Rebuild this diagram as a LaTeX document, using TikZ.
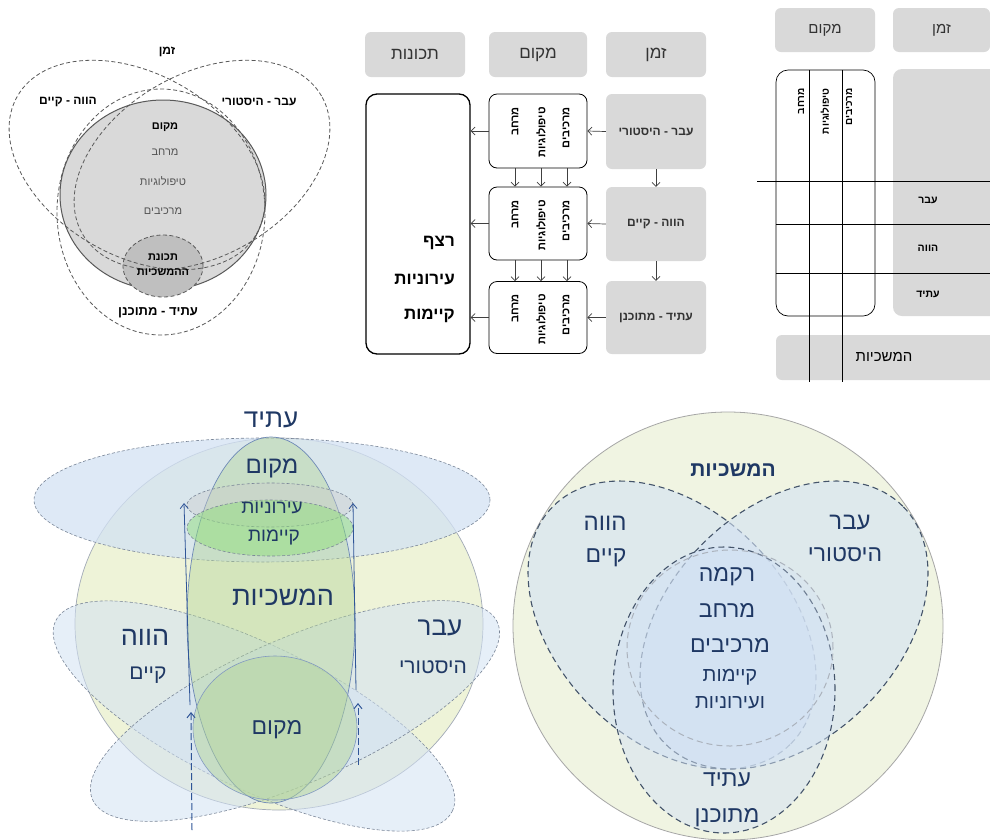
\documentclass[tikz,border=0pt]{standalone}
\usepackage{fontspec}
\setmainfont{Liberation Sans}
\newfontfamily\heb[Script=Hebrew]{Liberation Sans}
\TeXXeTstate=1
\usetikzlibrary{arrows.meta,calc}
\newcommand\hb[1]{\beginR #1\endR}
\newcommand\fs[1]{\fontsize{#1pt}{#1pt}\selectfont}
\definecolor{gbox}{HTML}{D9D9D9}
\definecolor{pone}{HTML}{595959}
\definecolor{ptxt}{HTML}{555555}
\definecolor{yg}{HTML}{EEF3D8}
\definecolor{ygb}{HTML}{F0F4E2}
\definecolor{lb}{HTML}{D3E2F4}
\definecolor{gr}{HTML}{B5D69C}
\definecolor{dblue}{HTML}{1F3864}
\definecolor{edgefour}{HTML}{7A8698}
\definecolor{edgefive}{HTML}{44546A}
\definecolor{arrowblue}{HTML}{2F5597}
\begin{document}
\begin{tikzpicture}[x=1pt,y=-1pt,
  graybox/.style={fill=gbox,rounded corners=6pt,inner sep=0pt,text=black!80},
  whitebox/.style={draw=black,line width=0.8pt,rounded corners=8pt,inner sep=0pt},
  vtext/.style={rotate=90,anchor=east,inner sep=0pt,font=\heb\bfseries\fs{11}},
  vtextb/.style={rotate=90,anchor=east,inner sep=0pt,font=\heb\bfseries\fs{10}},
  arr/.style={draw=black!75,line width=0.7pt,-{Straight Barb[length=4pt,width=8pt]}},
  ponedash/.style={draw=pone,dash pattern=on 4pt off 2.5pt,line width=0.8pt},
  pfourdash/.style={draw=edgefour,dash pattern=on 3pt off 2pt,line width=0.6pt},
  pfivedash/.style={draw=edgefive,dash pattern=on 6pt off 4pt,line width=1.1pt},
  parrow/.style={draw=arrowblue,line width=0.8pt,-{Straight Barb[length=5pt,width=8pt]}},
  longdash/.style={dash pattern=on 7pt off 3pt,line width=1pt},
  txtfour/.style={font=\heb,text=dblue,inner sep=0pt},
  txtone/.style={font=\heb\bfseries\fs{12},inner sep=0pt}
]
\useasboundingbox (0,0) rectangle (990,839);
\fill[white] (0,0) rectangle (990,839);
\begin{scope}
\clip (0,0) rectangle (990,839);

% ================= Panel 1 =================
\draw[fill=gbox,draw=pone,line width=1pt] (163,195) ellipse [x radius=103pt,y radius=95pt];
\draw[ponedash,fill=black!25] (163,266) ellipse [x radius=40pt,y radius=31pt];
\draw[ponedash,rotate around={-30:(137,165)}] (137,165) ellipse [x radius=138pt,y radius=91pt];
\draw[ponedash,rotate around={30:(202,165)}] (202,165) ellipse [x radius=138pt,y radius=91pt];
\draw[ponedash] (161,212) ellipse [x radius=104pt,y radius=123pt];
\node[txtone] (pz) at (167,52) {\hb{זמן}};
\node[txtone] (ph) at (68,102) {\hb{הווה - קיים}};
\node[txtone] (pa) at (259,102) {\hb{עבר - היסטורי}};
\node[txtone,font=\heb\bfseries\fs{11}] (pm) at (165,127) {\hb{מקום}};
\node[txtone,font=\heb\fs{11},text=ptxt] (pr) at (165,152) {\hb{מרחב}};
\node[txtone,font=\heb\fs{11},text=ptxt] (pt) at (163,181) {\hb{טיפולוגיות}};
\node[txtone,font=\heb\fs{11},text=ptxt] (pk) at (163,211) {\hb{מרכיבים}};
\node[txtone,font=\heb\bfseries\fs{11}] (pc1) at (163,257) {\hb{תכונת}};
\node[txtone,font=\heb\bfseries\fs{11}] (pc2) at (163,272) {\hb{ההמשכיות}};
\node[txtone,font=\heb\bfseries\fs{13}] (pf) at (158,313) {\hb{עתיד - מתוכנן}};

% ================= Panel 2 =================
\node[graybox,minimum width=100pt,minimum height=45pt,font=\heb\fs{17}] (h1) at (415,54.5) {\hb{תכונות}};
\node[graybox,minimum width=98pt,minimum height=45pt,font=\heb\fs{17}] (h2) at (538,54.5) {\hb{מקום}};
\node[graybox,minimum width=100pt,minimum height=45pt,font=\heb\fs{17}] (h3) at (656,54.5) {\hb{זמן}};
\node[whitebox,line width=1.3pt,rounded corners=11pt,minimum width=104pt,minimum height=260pt] (rz) at (418,224) {};
\node[whitebox,minimum width=98pt,minimum height=74pt] (w1) at (538,131) {};
\node[whitebox,minimum width=98pt,minimum height=73pt] (w2) at (538,223.5) {};
\node[whitebox,minimum width=98pt,minimum height=72pt] (w3) at (538,317.5) {};
\node[graybox,minimum width=100pt,minimum height=75pt,font=\heb\bfseries\fs{12}] (g1) at (656,131.5) {\hb{עבר - היסטורי}};
\node[graybox,minimum width=100pt,minimum height=74pt,font=\heb\bfseries\fs{12}] (g2) at (656,224) {\hb{הווה - קיים}};
\node[graybox,minimum width=100pt,minimum height=73pt,font=\heb\bfseries\fs{12}] (g3) at (656,317.5) {\hb{עתיד - מתוכנן}};
\foreach \r/\y in {1/107,2/200,3/294}{
  \node[vtext] (ta\r) at (515,\y) {\hb{מרחב}};
  \node[vtext] (tb\r) at (541,\y) {\hb{טיפולוגיות}};
  \node[vtext] (tc\r) at (566,\y) {\hb{מרכיבים}};
}
\node[anchor=east,inner sep=0pt,font=\heb\bfseries\fs{17}] (rz1) at (455,243) {\hb{רצף}};
\node[anchor=east,inner sep=0pt,font=\heb\bfseries\fs{17}] (rz2) at (455,280) {\hb{עירוניות}};
\node[anchor=east,inner sep=0pt,font=\heb\bfseries\fs{17}] (rz3) at (455,316) {\hb{קיימות}};
\foreach \i in {1,2,3}{
  \draw[arr] (g\i.west) -- (w\i.east);
  \draw[arr] (w\i.west) -- (w\i.west -| rz.east);
}
\draw[arr] (g1.south) -- (g2.north);
\draw[arr] (g2.south) -- (g3.north);
\coordinate (ca) at (515,0);
\coordinate (cb) at (541,0);
\coordinate (cc) at (567,0);
\foreach \c in {ca,cb,cc}{
  \draw[arr] (w1.south -| \c) -- (w2.north -| \c);
  \draw[arr] (w2.south -| \c) -- (w3.north -| \c);
}

% ================= Panel 3 =================
\node[graybox,minimum width=100pt,minimum height=44pt,font=\heb\fs{15}] (m3) at (825,30) {\hb{מקום}};
\node[graybox,minimum width=97pt,minimum height=44pt,font=\heb\fs{15}] (z3) at (941.5,30) {\hb{זמן}};
\node[graybox,rounded corners=9pt,minimum width=112pt,minimum height=247pt] (tg) at (949,192.5) {};
\node[graybox,minimum width=230pt,minimum height=45pt] (ms) at (891,357.5) {};
\node[whitebox,line width=0.7pt,rounded corners=12pt,minimum width=99pt,minimum height=246pt] (wb) at (825.5,193) {};
\node[font=\heb\fs{15},inner sep=0pt] (mst) at (884,357) {\hb{המשכיות}};
\coordinate (hl0) at (757,181); \coordinate (hl1) at (990,181);
\coordinate (hm0) at (776,224); \coordinate (hm1) at (990,224);
\coordinate (hn0) at (776,273); \coordinate (hn1) at (990,273);
\coordinate (va0) at (809,70); \coordinate (va1) at (809,382);
\coordinate (vb0) at (842,70); \coordinate (vb1) at (842,382);
\draw[line width=0.7pt] (hl0) -- (hl1);
\draw[line width=0.7pt] (hm0) -- (hm1);
\draw[line width=0.7pt] (hn0) -- (hn1);
\draw[line width=0.7pt] (va0) -- (va1);
\draw[line width=0.7pt] (vb0) -- (vb1);
\node[font=\heb\bfseries\fs{10.5},inner sep=0pt] (e1) at (928,200) {\hb{עבר}};
\node[font=\heb\bfseries\fs{10.5},inner sep=0pt] (e2) at (928,248) {\hb{הווה}};
\node[font=\heb\bfseries\fs{10.5},inner sep=0pt] (e3) at (928,294) {\hb{עתיד}};
\node[vtextb] (s1) at (801,88) {\hb{מרחב}};
\node[vtextb] (s2) at (825,88) {\hb{טיפולוגיות}};
\node[vtextb] (s3) at (849,88) {\hb{מרכיבים}};

% ================= Panel 4 =================
\draw[fill=yg,draw=edgefour!70,line width=0.7pt] (279,624) ellipse [x radius=204pt,y radius=186pt];
\draw[pfourdash,fill=lb,fill opacity=0.75] (262,500) ellipse [x radius=228pt,y radius=62pt];
\draw[pfourdash,fill=lb,fill opacity=0.55,rotate around={-25.6:(254,716)}] (254,716) ellipse [x radius=220pt,y radius=72pt];
\draw[pfourdash,fill=lb,fill opacity=0.55,rotate around={23.6:(295,711)}] (295,711) ellipse [x radius=221pt,y radius=72pt];
\draw[draw=arrowblue!70,line width=0.7pt,fill=gr,fill opacity=0.45] (271,620) ellipse [x radius=84pt,y radius=183pt];
\draw[draw=arrowblue!60,line width=0.6pt,fill=gr,fill opacity=0.5] (275,728) ellipse [x radius=82pt,y radius=72pt];
\draw[pfourdash,fill=black!20,fill opacity=0.4] (270,505) ellipse [x radius=83pt,y radius=22pt];
\draw[pfourdash,fill=gr!80!green,fill opacity=0.5] (270,528) ellipse [x radius=83pt,y radius=28pt];
\coordinate (la0) at (190,705); \coordinate (la1) at (184,503);
\coordinate (ld0) at (192,830); \coordinate (ld1) at (191,712);
\coordinate (ra0) at (356,690); \coordinate (ra1) at (353,503);
\coordinate (rd0) at (358,765); \coordinate (rd1) at (358,703);
\draw[parrow] (la0) -- (la1);
\draw[parrow,longdash] (ld0) -- (ld1);
\draw[parrow] (ra0) -- (ra1);
\draw[parrow,longdash] (rd0) -- (rd1);
\node[txtfour,font=\heb\fs{26}] (f1) at (271,420) {\hb{עתיד}};
\node[txtfour,font=\heb\fs{24}] (f2) at (272,468) {\hb{מקום}};
\node[txtfour,font=\heb\fs{19}] (f3) at (272,508) {\hb{עירוניות}};
\node[txtfour,font=\heb\fs{19}] (f4) at (274,537) {\hb{קיימות}};
\node[txtfour,font=\heb\fs{27}] (f5) at (283,597) {\hb{המשכיות}};
\node[txtfour,font=\heb\fs{27}] (f6) at (145,637) {\hb{הווה}};
\node[txtfour,font=\heb\fs{21}] (f7) at (148,675) {\hb{קיים}};
\node[txtfour,font=\heb\fs{26}] (f8) at (440,628) {\hb{עבר}};
\node[txtfour,font=\heb\fs{21}] (f9) at (433,667) {\hb{היסטורי}};
\node[txtfour,font=\heb\fs{23}] (f10) at (277,730) {\hb{מקום}};

% ================= Panel 5 =================
\draw[fill=ygb,draw=black!35,line width=0.8pt] (728,626) ellipse [x radius=215pt,y radius=214pt];
\draw[pfivedash,fill=lb,fill opacity=0.6,rotate around={-45:(672,625)}] (672,625) ellipse [x radius=168pt,y radius=115pt];
\draw[pfivedash,fill=lb,fill opacity=0.6,rotate around={45:(784,625)}] (784,625) ellipse [x radius=168pt,y radius=115pt];
\draw[pfivedash,fill=lb,fill opacity=0.5] (724,690) ellipse [x radius=111pt,y radius=143pt];
\draw[draw=edgefive!45,dash pattern=on 6pt off 4pt,line width=1pt,fill=lb,fill opacity=0.3] (730,648) ellipse [x radius=103pt,y radius=98pt];
\node[txtfour,font=\heb\bfseries\fs{21}] (q1) at (733,470) {\hb{המשכיות}};
\node[txtfour,font=\heb\fs{24}] (q2) at (605,523) {\hb{הווה}};
\node[txtfour,font=\heb\fs{23}] (q3) at (606,558) {\hb{קיים}};
\node[txtfour,font=\heb\fs{24}] (q4) at (850,522) {\hb{עבר}};
\node[txtfour,font=\heb\fs{23}] (q5) at (845,555) {\hb{היסטורי}};
\node[txtfour,font=\heb\fs{23}] (q6) at (727,577) {\hb{רקמה}};
\node[txtfour,font=\heb\fs{23}] (q7) at (727,610) {\hb{מרחב}};
\node[txtfour,font=\heb\fs{23}] (q8) at (730,645) {\hb{מרכיבים}};
\node[txtfour,font=\heb\fs{20}] (q9) at (730,677) {\hb{קיימות}};
\node[txtfour,font=\heb\fs{20}] (q10) at (730,703) {\hb{ועירוניות}};
\node[txtfour,font=\heb\fs{23}] (q11) at (727,780) {\hb{עתיד}};
\node[txtfour,font=\heb\fs{23}] (q12) at (727,818) {\hb{מתוכנן}};
\end{scope}
\end{tikzpicture}
\end{document}
